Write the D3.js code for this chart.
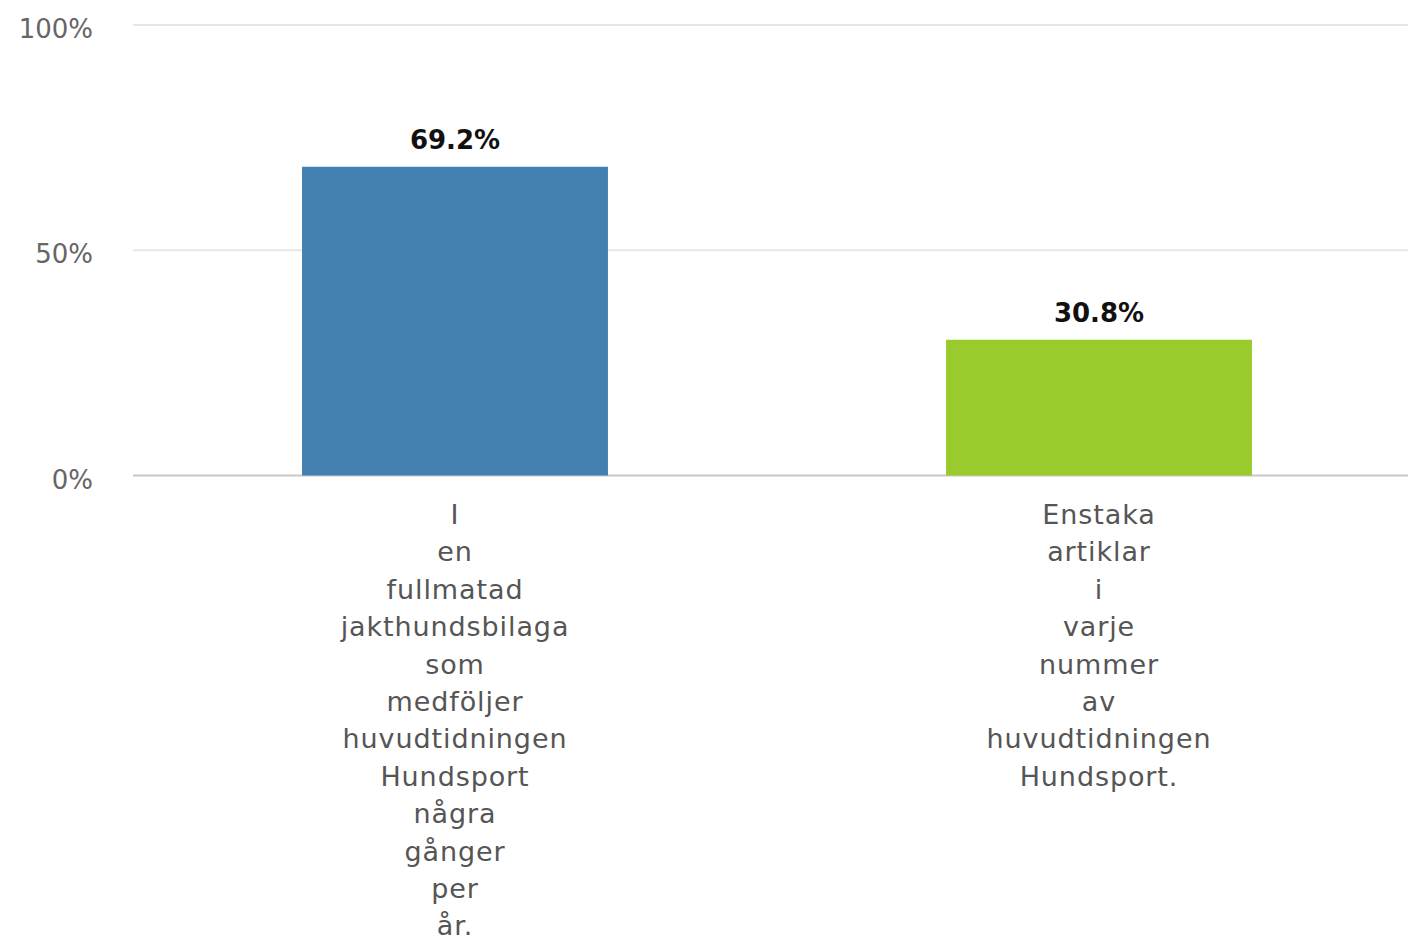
<!DOCTYPE html>
<html>
<head>
<meta charset="utf-8">
<script src="https://cdn.jsdelivr.net/npm/d3@7"></script>
<style>
  body { margin: 0; background: #fff; }
  text { font-family: "DejaVu Sans", sans-serif; }
</style>
</head>
<body>
<svg width="1408" height="939"></svg>
<script>
var categories = [
    'I en fullmatad jakthundsbilaga som medföljer huvudtidningen Hundsport några gånger per år.',
    'Enstaka artiklar i varje nummer av huvudtidningen Hundsport.'
];
var values = [69.2, 30.8];
var colors = ['#4180b1', '#9acb2c'];
var yTicks = [0, 50, 100];

var svg = d3.select('svg');

var x = d3.scaleBand()
    .domain(categories)
    .range([133, 1421])
    .paddingInner(0.525)
    .paddingOuter(0.2625);

var y = d3.scaleLinear()
    .domain([0, 100])
    .range([475.5, 25]);

// gridlines
svg.selectAll('line.grid')
    .data(yTicks)
    .enter()
    .append('line')
    .attr('x1', 133)
    .attr('x2', 1408)
    .attr('y1', d => y(d))
    .attr('y2', d => y(d))
    .attr('stroke', d => d === 0 ? '#c8c8c8' : '#e6e6e6')
    .attr('stroke-width', 2);

// y tick labels
svg.selectAll('text.ytick')
    .data(yTicks)
    .enter()
    .append('text')
    .attr('x', 93)
    .attr('y', d => y(d) + 13)
    .attr('text-anchor', 'end')
    .attr('fill', '#666')
    .attr('font-size', 26)
    .text(d => d + '%');

// bars
svg.selectAll('rect.bar')
    .data(values)
    .enter()
    .append('rect')
    .attr('x', (d, i) => x(categories[i]))
    .attr('width', x.bandwidth())
    .attr('y', d => y(d) + 3)
    .attr('height', d => y(0) - y(d) - 3)
    .attr('fill', (d, i) => colors[i]);

// value labels
svg.selectAll('text.val')
    .data(values)
    .enter()
    .append('text')
    .attr('x', (d, i) => x(categories[i]) + x.bandwidth() / 2)
    .attr('y', d => y(d) - 15)
    .attr('text-anchor', 'middle')
    .attr('font-weight', 'bold')
    .attr('font-size', 26)
    .attr('fill', '#111')
    .text(d => d.toFixed(1) + '%');

// category labels, one word per line
var lineH = 37.4;
categories.forEach((c, i) => {
    var t = svg.append('text')
        .attr('text-anchor', 'middle')
        .attr('fill', '#555')
        .attr('font-size', 27)
        .attr('letter-spacing', 0.9)
        .attr('y', 524);
    c.split(' ').forEach((w, j) => {
        t.append('tspan')
            .attr('x', x(c) + x.bandwidth() / 2)
            .attr('dy', j === 0 ? 0 : lineH)
            .text(w);
    });
});
</script>
</body>
</html>
